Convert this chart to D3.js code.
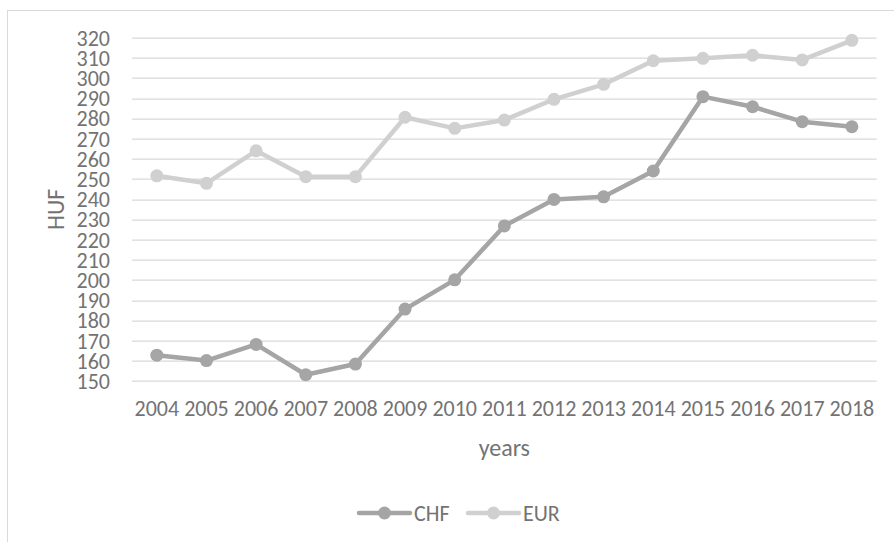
<!DOCTYPE html>
<html>
<head>
<meta charset="utf-8">
<script src="https://cdn.jsdelivr.net/npm/d3@7"></script>
<style>
  body { margin: 0; background: #fff; }
  svg text { font-family: Calibri, Carlito, "Open Sans", sans-serif; fill: #737373; }
</style>
</head>
<body>
<div id="chart"></div>
<script>
const years = ["2004", "2005", "2006", "2007", "2008", "2009", "2010", "2011", "2012", "2013", "2014", "2015", "2016", "2017", "2018"];
const chf = [162.8, 160.1, 168.1, 153.1, 158.4, 185.6, 200.1, 226.8, 239.9, 241.2, 254.0, 290.8, 285.8, 278.4, 275.9];
const eur = [251.6, 247.9, 264.0, 251.2, 251.2, 280.6, 275.1, 279.2, 289.5, 296.9, 308.6, 309.8, 311.3, 309.0, 318.7];
const yTicks = d3.range(150, 321, 10);

const series = [
    { name: "CHF", values: chf, color: "#a5a5a5" },
    { name: "EUR", values: eur, color: "#d0d0d0" }
];

const W = 894, H = 542;
const margin = { top: 37.7, right: 17.3, bottom: 161, left: 132 };
const width = W - margin.left - margin.right;
const height = H - margin.top - margin.bottom;

const svg = d3.select("#chart").append("svg")
    .attr("width", W)
    .attr("height", H);

// chart area frame
svg.append("rect")
    .attr("x", 7.5).attr("y", 10.5)
    .attr("width", W + 20).attr("height", H + 20)
    .attr("fill", "none")
    .attr("stroke", "#d9d9d9")
    .attr("stroke-width", 1);

const g = svg.append("g")
    .attr("transform", `translate(${margin.left}, ${margin.top})`);

const xScale = d3.scaleBand()
    .domain(years)
    .range([0, width])
    .padding(0);

const yScale = d3.scaleLinear()
    .domain([150, 320])
    .range([height, 0]);

// gridlines
g.append("g")
    .selectAll("line")
    .data(yTicks)
    .enter()
  .append("line")
    .attr("x1", 0)
    .attr("x2", width)
    .attr("y1", d => Math.round(yScale(d)) + 0.5)
    .attr("y2", d => Math.round(yScale(d)) + 0.5)
    .attr("stroke", "#d9d9d9")
    .attr("stroke-width", 1.3);

const yAxis = d3.axisLeft(yScale)
    .tickValues(yTicks)
    .tickSize(0)
    .tickPadding(22);

const yAxisGroup = g.append("g").call(yAxis);
yAxisGroup.select(".domain").remove();
yAxisGroup.selectAll("text")
    .attr("font-size", 22)
    .attr("dy", "0.34em")
    .style("font-family", null);

const xAxis = d3.axisBottom(xScale)
    .tickSize(0)
    .tickPadding(19);

const xAxisGroup = g.append("g")
    .attr("transform", `translate(0, ${height})`)
    .call(xAxis);
xAxisGroup.select(".domain").remove();
xAxisGroup.selectAll("text")
    .attr("font-size", 22)
    .style("font-family", null);

// axis titles
svg.append("text")
    .attr("transform", `translate(56, ${margin.top + height / 2}) rotate(-90)`)
    .attr("text-anchor", "middle")
    .attr("dy", "0.35em")
    .attr("font-size", 24)
    .text("HUF");

svg.append("text")
    .attr("x", margin.left + width / 2)
    .attr("y", 448)
    .attr("text-anchor", "middle")
    .attr("dy", "0.35em")
    .attr("font-size", 24)
    .text("years");

// lines + markers
const line = d3.line()
    .x((d, i) => xScale(years[i]) + xScale.bandwidth() / 2)
    .y(d => yScale(d));

series.forEach(s => {
    g.append("path")
        .datum(s.values)
        .attr("fill", "none")
        .attr("stroke", s.color)
        .attr("stroke-width", 4.5)
        .attr("stroke-linejoin", "round")
        .attr("d", line);

    g.selectAll(null)
        .data(s.values)
        .enter()
      .append("circle")
        .attr("cx", (d, i) => xScale(years[i]) + xScale.bandwidth() / 2)
        .attr("cy", d => yScale(d))
        .attr("r", 6.5)
        .attr("fill", s.color);
});

// legend
const legendX = [359, 468];
const legend = svg.append("g");
series.forEach((s, i) => {
    const lg = legend.append("g").attr("transform", `translate(${legendX[i]}, 513)`);
    lg.append("line")
        .attr("x1", 0).attr("x2", 51)
        .attr("stroke", s.color)
        .attr("stroke-width", 4.5)
        .attr("stroke-linecap", "round");
    lg.append("circle")
        .attr("cx", 25.5)
        .attr("r", 6.5)
        .attr("fill", s.color);
    lg.append("text")
        .attr("x", 55)
        .attr("dy", "0.35em")
        .attr("font-size", 22)
        .text(s.name);
});
</script>
</body>
</html>
